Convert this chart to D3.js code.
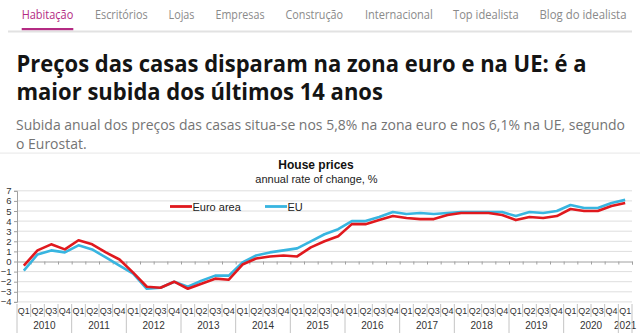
<!DOCTYPE html>
<html><head><meta charset="utf-8">
<script src="https://cdn.jsdelivr.net/npm/d3@7"></script>
<style>html,body{margin:0;padding:0;background:#fff;overflow:hidden}</style>
</head><body>
<script>
// ---- data ----
const navItems = ["Habitação","Escritórios","Lojas","Empresas","Construção","Internacional","Top idealista","Blog do idealista"];
const headlineLines = ["Preços das casas disparam na zona euro e na UE: é a","maior subida dos últimos 14 anos"];
const subtitleLines = ["Subida anual dos preços das casas situa-se nos 5,8% na zona euro e nos 6,1% na UE, segundo","o Eurostat."];
const chartTitle = "House prices";
const chartSubtitle = "annual rate of change, %";
const years = ["2010","2011","2012","2013","2014","2015","2016","2017","2018","2019","2020","2021"];
const quarterNames = ["Q1","Q2","Q3","Q4"];
const yTicks = [-4,-3,-2,-1,0,1,2,3,4,5,6,7];
const seriesNames = ["Euro area","EU"];
const euroArea = [-0.4,1.1,1.7,1.2, 2.1,1.7,0.9,0.2, -1.1,-2.5,-2.6,-2.0, -2.7,-2.2,-1.7,-1.8,
  -0.3,0.3,0.5,0.6, 0.5,1.4,2.0,2.5, 3.7,3.7,4.1,4.5, 4.3,4.2,4.2,4.6, 4.8,4.8,4.8,4.6,
  4.1,4.4,4.3,4.5, 5.2,5.0,5.0,5.5, 5.8];
const eu = [-0.9,0.7,1.1,0.9, 1.6,1.2,0.4,-0.4, -1.2,-2.7,-2.6,-2.0, -2.5,-1.9,-1.4,-1.4,
  -0.1,0.6,0.9,1.1, 1.3,2.0,2.7,3.2, 4.0,4.0,4.4,4.9, 4.7,4.8,4.7,4.8, 4.9,4.9,4.9,4.9,
  4.5,4.9,4.8,5.0, 5.6,5.3,5.3,5.8, 6.1];

// ---- layout ----
const W = 640, H = 334;
const navX = [21.7,95,168.5,215.5,285.5,365,453,539.5];
const navW = [51.6,52.7,26,49,57.6,67.8,65.8,87];
const colors = {red:"#e0191e", blue:"#38b5e0", active:"#b42b83", nav:"#8a8a8a"};

const svg = d3.select("body").append("svg").attr("width",W).attr("height",H)
  .style("display","block");
svg.append("rect").attr("width",W).attr("height",H).attr("fill","#fff");

// nav
const pageFont = "'Open Sans', 'Noto Sans', sans-serif";
svg.selectAll("text.nav").data(navItems).join("text").attr("class","nav")
  .attr("x",(d,i)=>navX[i]).attr("y",18.5)
  .attr("font-family",pageFont).attr("font-size",13.5)
  .attr("fill",(d,i)=> i===0 ? colors.active : colors.nav)
  .attr("textLength",(d,i)=>navW[i]).attr("lengthAdjust","spacingAndGlyphs")
  .text(d=>d);
svg.append("rect").attr("x",8).attr("y",30.5).attr("width",624).attr("height",2).attr("fill","#e2e2e2");
svg.append("rect").attr("x",navX[0]).attr("y",28).attr("width",navW[0]).attr("height",2.2).attr("fill",colors.active);

// headline
function fitLines(lines, opts){
  const nodes = lines.map((t,i)=> svg.append("text")
    .attr("x",opts.x).attr("y",opts.y0 + i*opts.dy)
    .attr("font-family",pageFont).attr("font-size",opts.size)
    .attr("font-weight",opts.weight).attr("fill",opts.color).text(t));
  const k = opts.width / nodes[0].node().getComputedTextLength();
  nodes.forEach(n=> n.attr("textLength", n.node().getComputedTextLength()*k)
    .attr("lengthAdjust","spacingAndGlyphs"));
}
fitLines(headlineLines,{x:16.5,y0:71.5,dy:28.5,size:24,weight:700,color:"#141414",width:570});
fitLines(subtitleLines,{x:16,y0:130,dy:19,size:14.5,weight:400,color:"#747474",width:609});
svg.append("rect").attr("x",0).attr("y",152.5).attr("width",W).attr("height",1.2).attr("fill","#ececec");

// ---- chart ----
const chartFont = "'Liberation Sans', Arial, sans-serif";
const plotL = 17, plotR = 632, plotT = 190.8, plotB = 301.9;
const idx = d3.range(euroArea.length);
const x = d3.scaleBand().domain(idx).range([plotL,plotR]).paddingInner(0).paddingOuter(0);
const xLin = d3.scaleLinear().domain([0, idx.length]).range([plotL,plotR]);
const y = d3.scaleLinear().domain([-4,7]).range([plotB, plotT]);

svg.append("text").attr("x",316).attr("y",169).attr("text-anchor","middle")
  .attr("font-family",chartFont).attr("font-size",12).attr("font-weight",700).attr("fill","#111")
  .text(chartTitle);
svg.append("text").attr("x",316.5).attr("y",182.5).attr("text-anchor","middle")
  .attr("font-family",chartFont).attr("font-size",11).attr("fill","#222")
  .text(chartSubtitle);

// grid
svg.append("g").selectAll("line").data(yTicks.filter(v=>v!==0)).join("line")
  .attr("x1",plotL).attr("x2",plotR).attr("y1",d=>y(d)).attr("y2",d=>y(d))
  .attr("stroke","#dedede").attr("stroke-width",1);

// y axis
const gy = svg.append("g").attr("transform",`translate(${plotL},0)`)
  .call(d3.axisLeft(y).tickValues(yTicks).tickSize(3).tickPadding(2.5).tickFormat(d3.format("d")));
gy.select(".domain").attr("stroke","#a0a0a0");
gy.selectAll(".tick line").attr("stroke","#a0a0a0");
gy.selectAll("text").attr("font-family",chartFont).attr("font-size",9.5).attr("fill","#333");

// zero axis with quarter ticks
const gx = svg.append("g").attr("transform",`translate(0,${y(0)})`)
  .call(d3.axisBottom(xLin).tickValues(d3.range(idx.length+1)).tickSize(3).tickFormat(""));
gx.select(".domain").attr("stroke","#a0a0a0");
gx.selectAll(".tick line").attr("stroke","#a0a0a0");

// category labels
const labelY = 313.5, yearY = 329;
svg.append("g").selectAll("text").data(idx).join("text")
  .attr("x",i=>x(i)+x.bandwidth()/2).attr("y",labelY).attr("text-anchor","middle")
  .attr("font-family",chartFont).attr("font-size",9).attr("fill","#333")
  .text(i=>quarterNames[i%4]);
svg.append("g").selectAll("text").data(years).join("text")
  .attr("x",(d,j)=>{const a=j*4, b=Math.min(idx.length, j*4+4); return (xLin(a)+xLin(b))/2;})
  .attr("y",yearY).attr("text-anchor","middle")
  .attr("font-family",chartFont).attr("font-size",10).attr("fill","#333")
  .text(d=>d);
svg.append("g").selectAll("line").data(d3.range(idx.length+1)).join("line")
  .attr("x1",i=>xLin(i)).attr("x2",i=>xLin(i))
  .attr("y1",304).attr("y2",i=> (i%4===0 || i===idx.length) ? 333 : 317)
  .attr("stroke","#c4c4c4").attr("stroke-width",1);

// lines
const line = d3.line().x((d,i)=>x(i)+x.bandwidth()/2).y(d=>y(d));
svg.append("path").datum(eu).attr("d",line).attr("fill","none")
  .attr("stroke",colors.blue).attr("stroke-width",2.6).attr("stroke-linejoin","round");
svg.append("path").datum(euroArea).attr("d",line).attr("fill","none")
  .attr("stroke",colors.red).attr("stroke-width",2.6).attr("stroke-linejoin","round");

// legend
const legend = [{name:seriesNames[0], color:colors.red, x:170},{name:seriesNames[1], color:colors.blue, x:265}];
const lg = svg.append("g").selectAll("g").data(legend).join("g")
  .attr("transform",d=>`translate(${d.x},206.5)`);
lg.append("line").attr("x1",0).attr("x2",22).attr("stroke",d=>d.color).attr("stroke-width",2.8);
lg.append("text").attr("x",22.5).attr("y",4).attr("font-family",chartFont).attr("font-size",11)
  .attr("fill","#222").text(d=>d.name);
</script>
</body></html>
